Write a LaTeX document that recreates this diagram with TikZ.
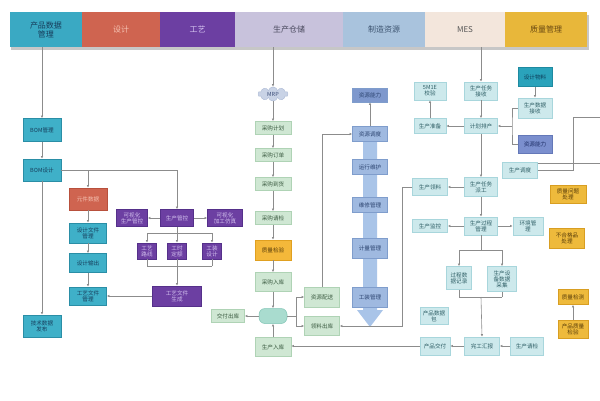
\documentclass[tikz,border=0pt]{standalone}
\usepackage{fontspec}
\setmainfont{Noto Sans CJK SC}
\usepackage{tikz}
\usetikzlibrary{positioning, shapes.geometric, shapes.symbols, arrows.meta}

\definecolor{cpdm}{HTML}{3AA9C3}\definecolor{tpdm}{HTML}{173E5C}
\definecolor{csj}{HTML}{CF6450}\definecolor{tsj}{HTML}{F5C2B2}
\definecolor{cgy}{HTML}{6C3FA2}\definecolor{tgy}{HTML}{D2C0EE}
\definecolor{ccc}{HTML}{C8C2DC}\definecolor{tcc}{HTML}{4A4A5E}
\definecolor{czy}{HTML}{A9C3DD}\definecolor{tzy}{HTML}{3D5470}
\definecolor{cmes}{HTML}{F3E6DC}\definecolor{tmes}{HTML}{555555}
\definecolor{czl}{HTML}{E8B73A}\definecolor{tzl}{HTML}{6B4A12}
\definecolor{lc}{HTML}{8C8C8C}
\definecolor{band}{HTML}{A9C4E8}
\definecolor{pdmfill}{HTML}{3FB0C8}\definecolor{pdmdraw}{HTML}{2A8EA6}
\definecolor{sjdraw}{HTML}{B8503C}\definecolor{gydraw}{HTML}{55308A}
\definecolor{ccfill}{HTML}{CFE7D3}\definecolor{ccdraw}{HTML}{AFD3B5}\definecolor{cctext}{HTML}{3A5A40}
\definecolor{qcfill}{HTML}{F4B83A}\definecolor{qcdraw}{HTML}{E0A020}\definecolor{qctext}{HTML}{5A3E0A}
\definecolor{resfill}{HTML}{9FB9E0}\definecolor{resdraw}{HTML}{7F9DCC}\definecolor{restext}{HTML}{2C4470}
\definecolor{resdark}{HTML}{7E98CD}
\definecolor{mesfill}{HTML}{CDE9EC}\definecolor{mesdraw}{HTML}{A8D6DC}\definecolor{mestext}{HTML}{2F5F66}
\definecolor{goldfill}{HTML}{EEBA3C}\definecolor{golddraw}{HTML}{D89E22}
\definecolor{mrpfill}{HTML}{C9D3E6}\definecolor{mrpdraw}{HTML}{AAB8D4}\definecolor{mrptext}{HTML}{3D4F7A}
\definecolor{ckfill}{HTML}{A9DCCF}\definecolor{ckdraw}{HTML}{7FC4B4}
\definecolor{wlfill}{HTML}{2AA3BB}\definecolor{wldraw}{HTML}{1E8AA0}\definecolor{wltext}{HTML}{0E3E5A}
\definecolor{nlfill}{HTML}{7B8FCE}\definecolor{nldraw}{HTML}{6478B8}\definecolor{nltext}{HTML}{1E2E66}

\tikzset{
  sz/.style 2 args={minimum width=#1pt, minimum height=#2pt},
  hd/.style={anchor=west, inner sep=0pt, outer sep=0pt, minimum height=35pt, align=center, font=\fontsize{8}{9}\selectfont},
  box/.style={draw, line width=0.5pt, inner sep=0.3pt, align=center, font=\fontsize{5.6}{6.1}\selectfont, sz={35}{15}},
  pdm/.style={box, fill=pdmfill, draw=pdmdraw, text=tpdm},
  sjbox/.style={box, fill=csj, draw=sjdraw, text=tsj},
  gybox/.style={box, fill=cgy, draw=gydraw, text=tgy},
  cc/.style={box, fill=ccfill, draw=ccdraw, text=cctext, sz={36}{13}},
  qc/.style={box, fill=qcfill, draw=qcdraw, text=qctext},
  res/.style={box, fill=resfill, draw=resdraw, text=restext},
  mes/.style={box, fill=mesfill, draw=mesdraw, text=mestext, sz={33}{18}},
  gold/.style={box, fill=goldfill, draw=golddraw, text=qctext},
  line/.style={draw=lc, line width=0.6pt},
  arr/.style={line, -{Latex[length=2.6pt,width=2.4pt]}}
}

\begin{document}
\begin{tikzpicture}[x=1pt, y=-1pt]
        \useasboundingbox (0,0) rectangle (600,400);
        \fill[white] (0,0) rectangle (600,400);

        % header bar
        \fill[black!22] (11,15) rectangle (589,50);
        \foreach \x/\w/\c/\k/\n/\s in {10/72/cpdm/tpdm/hpdm/{产品数据\\管理}, 82/78/csj/tsj/hsj/设计,
            160/75/cgy/tgy/hgy/工艺, 235/108/ccc/tcc/hcc/生产仓储, 343/82/czy/tzy/hzy/制造资源,
            425/80/cmes/tmes/hmes/MES, 505/82/czl/tzl/hzl/质量管理}
        \node[hd, fill=\c, text=\k, minimum width=\w pt] (\n) at (\x,29.5) {\s};

        % resource band
        \fill[band] (363,142) -- (377,142) -- (377,310) -- (383,310) -- (370,327) -- (357,310) -- (363,310) -- cycle;

        % product data / design
        \node[pdm, sz={38}{23}] (bomgl) at (42,130) {BOM管理};
        \node[pdm, sz={38}{22}] (bomsj) at (42,170) {BOM设计};
        \node[pdm, sz={38}{22}] (jsfb) at (42,326) {技术数据\\发布};
        \node[sjbox, sz={38}{22}] (yjsj) at (88,199) {元件数据};
        \node[pdm, sz={37}{20}] (sjwj) at (88,233) {设计文件\\管理};
        \node[pdm, sz={37}{19}] (sjsc) at (88,263) {设计输出};
        \node[pdm, sz={37}{18}] (gywj) at (88,296) {工艺文件\\管理};

        % process planning
        \node[gybox, sz={33}{17}] (sckz) at (177,218) {生产管控};
        \node[gybox, sz={31}{17}] (kzl) at (132,218) {可视化\\生产管控};
        \node[gybox, sz={35}{17}] (kzr) at (225,218) {可视化\\加工仿真};
        \node[gybox, sz={19}{16}] (gx1) at (147,251) {工艺\\路线};
        \node[gybox, sz={19}{16}] (gx2) at (177,251) {工时\\定额};
        \node[gybox, sz={19}{16}] (gx3) at (212,251) {工装\\设计};
        \node[gybox, sz={49}{20}] (gysc) at (177,296) {工艺文件\\生成};

        % warehouse
        \node[cloud, cloud puffs=10, aspect=2.2, inner sep=0pt, sz={30}{14}, fill=mrpfill, draw=mrpdraw,
            text=mrptext, font=\fontsize{5.6}{6.1}\selectfont] (mrp) at (273,94) {MRP};
        \node[cc] (cgjh) at (273,128) {采购计划};
        \node[cc] (cgdd) at (273,155) {采购订单};
        \node[cc] (cgdh) at (273,184) {采购到货};
        \node[cc] (cgqj) at (273,218) {采购请检};
        \node[qc, sz={36}{20}] (zljy) at (273,250) {质量检验};
        \node[cc, sz={36}{19}] (cgrk) at (273,282) {采购入库};
        \node[draw=ckdraw, fill=ckfill, rounded corners=6pt, line width=0.5pt, sz={28}{15}] (ck) at (273,316) {};
        \node[cc, sz={36}{19}] (scrk) at (273,347) {生产入库};
        \node[cc, sz={33}{13}] (jfck) at (228,316) {交付出库};
        \node[cc, sz={35}{20}] (zyps) at (322,297) {资源配送};
        \node[cc, sz={35}{19}] (llck) at (322,326) {领料出库};

        % manufacturing resources
        \node[res, fill=resdark, sz={35}{14}] (zynl) at (370,95) {资源能力};
        \node[res] (zytd) at (370,134) {资源调度};
        \node[res] (yxwh) at (370,167) {运行维护};
        \node[res] (wxgl) at (370,205) {维修管理};
        \node[res, sz={35}{20}] (jlgl) at (370,248) {计量管理};
        \node[res, sz={35}{20}] (gzgl) at (370,297) {工装管理};

        % MES
        \node[mes] (rwjs) at (481,91) {生产任务\\接收};
        \node[mes, sz={32}{18}] (jy5m) at (430,91) {5M1E\\校验};
        \node[mes, sz={32}{15}] (sczb) at (430,126) {生产准备};
        \node[mes, sz={33}{15}] (jhpc) at (481,126) {计划排产};
        \node[box, fill=wlfill, draw=wldraw, text=wltext, sz={34}{19}] (sjwl) at (535,77) {设计物料};
        \node[mes, sz={34}{20}] (sjjs) at (535,108) {生产数据\\接收};
        \node[box, fill=nlfill, draw=nldraw, text=nltext, sz={34}{18}] (zynl2) at (535,144) {资源能力};
        \node[mes, sz={33}{19}] (rwpg) at (481,187) {生产任务\\派工};
        \node[mes, sz={35}{17}] (scll) at (430,187) {生产领料};
        \node[mes, sz={35}{16}] (scdd) at (520,170) {生产调度};
        \node[mes] (gcgl) at (481,226) {生产过程\\管理};
        \node[mes, sz={35}{13}] (scjk) at (430,226) {生产监控};
        \node[mes, sz={30}{18}] (hjgl) at (528,226) {环境管\\理};
        \node[mes, sz={25}{23}] (gcsj) at (459,278) {过程数\\据记录};
        \node[mes, sz={29}{25}] (sbsj) at (502,279) {生产设\\备数据\\采集};
        \node[mes, sz={35}{18}] (wghb) at (482,346) {完工汇报};
        \node[mes, sz={30}{18}] (cpjf) at (435,346) {产品交付};
        \node[mes, sz={33}{18}] (scqj) at (527,346) {生产请检};
        \node[mes, sz={28}{17}] (cpsjb) at (434,316) {产品数据\\包};

        % quality
        \node[gold, sz={36}{18}] (zlwt) at (568,194) {质量问题\\处理};
        \node[gold, sz={35}{20}] (bhg) at (567,238) {不合格品\\处理};
        \node[gold, sz={30}{15}] (zljc) at (573,297) {质量检测};
        \node[gold, sz={30}{18}] (cpzl) at (573,329) {产品质量\\检验};

        % product data / design links
        \draw[arr] (hpdm.south -| bomgl.north) -- (bomgl.north);
        \draw[arr] (bomgl) -- (bomsj);
        \draw[arr] (bomsj) -- (jsfb);
        \draw[arr] (bomsj.east) -| (sckz.north);
        \draw[arr] (bomsj.east -| yjsj.north) -- (yjsj.north);
        \foreach \a/\b in {yjsj/sjwj, sjwj/sjsc, sjsc/gywj}
        \draw[arr] (\a) -- (\b);

        % process planning links
        \draw[arr] (sckz) -- (kzl);
        \draw[arr] (sckz) -- (kzr);
        \coordinate (gyup) at (177,233);
        \coordinate (gydn) at (177,266);
        \draw[line] (sckz.south) -- (gyup);
        \draw[line] (gyup -| gx1) -- (gyup -| gx3);
        \foreach \g in {gx1, gx2, gx3} {
            \draw[arr] (gyup -| \g) -- (\g.north);
            \draw[line] (\g.south) -- (gydn -| \g);
        }
        \draw[line] (gydn -| gx1) -- (gydn -| gx3);
        \draw[arr] (gydn) -- (gysc.north);
        \draw[arr] (gysc) -- (gywj);

        % warehouse links
        \draw[arr] (hcc.south -| mrp) -- (mrp);
        \foreach \a/\b in {mrp/cgjh, cgjh/cgdd, cgdd/cgdh, cgdh/cgqj, cgqj/zljy, zljy/cgrk, cgrk/ck}
        \draw[arr] (\a) -- (\b);
        \draw[arr] (scrk) -- (ck);
        \draw[arr] (ck) -- (jfck);
        \coordinate (ckr) at (296,316);
        \draw[line] (ck.east) -- (ckr);
        \draw[line] (ckr |- zyps) -- (ckr |- llck);
        \draw[arr] (ckr |- zyps) -- (zyps.west);
        \draw[arr] (ckr |- llck) -- (llck.west);
        \draw[arr] (zyps.north) |- (zytd.west);
        \draw[arr] (zytd) -- (zynl);
        \coordinate (llr) at (402,326);
        \draw[arr] (scll.west) -| (llr) -- (llck.east);
        \draw[arr] (cpjf.west) -- (cpjf.west -| scrk.east);

        % MES links
        \draw[arr] (hmes.south -| rwjs) -- (rwjs);
        \foreach \a/\b in {rwjs/jhpc, jhpc/sczb, sczb/jy5m, sjwl/sjjs, jhpc/rwpg, rwpg/scll, rwpg/gcgl, gcgl/scjk, gcgl/hjgl}
        \draw[arr] (\a) -- (\b);
        \coordinate (jhr) at (512,126);
        \draw[line] (sjjs.west) -| (jhr) |- (zynl2.west);
        \draw[arr] (jhr) -- (jhpc.east);
        \coordinate (gcup) at (481,250);
        \coordinate (gcdn) at (481,297);
        \draw[line] (gcgl.south) -- (gcup);
        \draw[line] (gcup -| gcsj) -- (gcup -| sbsj);
        \foreach \g in {gcsj, sbsj} {
            \draw[arr] (gcup -| \g) -- (\g.north);
            \draw[line] (\g.south) -- (gcdn -| \g);
        }
        \draw[line] (gcdn -| gcsj) -- (gcdn -| sbsj);
        \draw[arr] (gcdn) -- (wghb.north);
        \draw[arr] (wghb) -- (cpjf);
        \draw[arr] (scqj) -- (wghb);
        \draw[arr] (cpzl) -- (zljc);

        % lines leaving to the right
        \coordinate (ddr) at (573,170);
        \coordinate (out1) at (600,117);
        \coordinate (out2) at (600,163);
        \draw[line] (scdd.east) -- (ddr) |- (out1);
        \draw[line] (scdd.east |- out2) -- (out2);
    \end{tikzpicture}
\end{document}
